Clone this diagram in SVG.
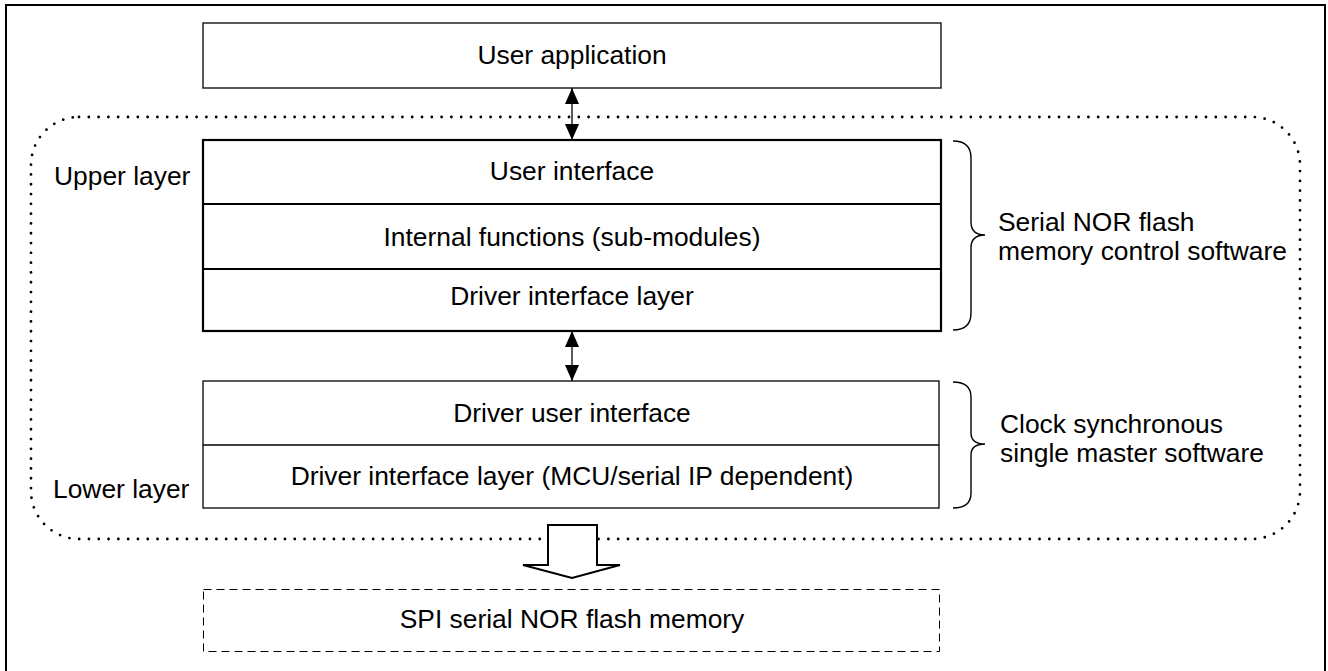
<svg xmlns="http://www.w3.org/2000/svg" width="1328" height="671" viewBox="0 0 1328 671">
<style>
text{font-family:"Liberation Sans",Arial,sans-serif;font-size:26.4px;fill:#000}
.c{text-anchor:middle}
.thin{fill:#fff;stroke:#000;stroke-width:1.3}
.thick{fill:#fff;stroke:#000;stroke-width:2.2}
.brace{fill:none;stroke:#000;stroke-width:1.4}
</style>
<defs>
<marker id="ah" viewBox="0 0 16 14" refX="16" refY="7" markerWidth="16" markerHeight="14" markerUnits="userSpaceOnUse" orient="auto-start-reverse">
<path d="M0,0 L16,7 L0,14 Z" fill="#000"/>
</marker>
</defs>
<rect x="6" y="5" width="1319" height="672" fill="#fff" stroke="#000" stroke-width="2"/>
<g id="software-boundary">
<rect x="31" y="117" width="1269" height="422" rx="48" ry="48" fill="none" stroke="#000" stroke-width="2.8" stroke-linecap="round" stroke-dasharray="0 9.8"/>
</g>
<g id="user-application">
<rect x="203" y="23" width="738" height="65" class="thin"/>
<text x="572" y="64" class="c">User application</text>
</g>
<g id="upper-stack">
<rect x="203" y="140" width="738" height="191" class="thick"/>
<line x1="203" y1="204" x2="941" y2="204" stroke="#000" stroke-width="2.2"/>
<line x1="203" y1="269" x2="941" y2="269" stroke="#000" stroke-width="2.2"/>
<text x="572" y="180" class="c">User interface</text>
<text x="572" y="246" class="c">Internal functions (sub-modules)</text>
<text x="572" y="305" class="c">Driver interface layer</text>
</g>
<g id="lower-stack">
<rect x="203" y="381" width="736" height="127" class="thin"/>
<line x1="203" y1="445" x2="939" y2="445" stroke="#000" stroke-width="1.3"/>
<text x="572" y="422" class="c">Driver user interface</text>
<text x="572" y="485" class="c">Driver interface layer (MCU/serial IP dependent)</text>
</g>
<g id="spi-flash">
<rect x="203.5" y="589.5" width="736" height="62" fill="#fff" stroke="#000" stroke-width="1" stroke-dasharray="8 5"/>
<text x="572" y="628" class="c">SPI serial NOR flash memory</text>
</g>
<g id="layer-labels">
<text x="54" y="185">Upper layer</text>
<text x="53" y="498">Lower layer</text>
</g>
<g id="braces">
<path class="brace" d="M953,141 Q971,141 971,158 L971,222 Q971,235 985,235 Q971,235 971,248 L971,313 Q971,330 953,330"/>
<path class="brace" d="M953,382 Q971,382 971,397 L971,433 Q971,444 985,444 Q971,444 971,455 L971,493 Q971,508 953,508"/>
<text x="998" y="231">Serial NOR flash</text>
<text x="998" y="260">memory control software</text>
<text x="1000" y="433">Clock synchronous</text>
<text x="1000" y="462">single master software</text>
</g>
<g id="connectors">
<line x1="572" y1="88" x2="572" y2="140" stroke="#000" stroke-width="1.3" marker-start="url(#ah)" marker-end="url(#ah)"/>
<line x1="572" y1="331" x2="572" y2="381" stroke="#000" stroke-width="1.3" marker-start="url(#ah)" marker-end="url(#ah)"/>
<polygon points="548,525 597,525 597,565 620,565 572,578 523,565 548,565" fill="#fff" stroke="#000" stroke-width="2" stroke-linejoin="miter"/>
</g>
</svg>
